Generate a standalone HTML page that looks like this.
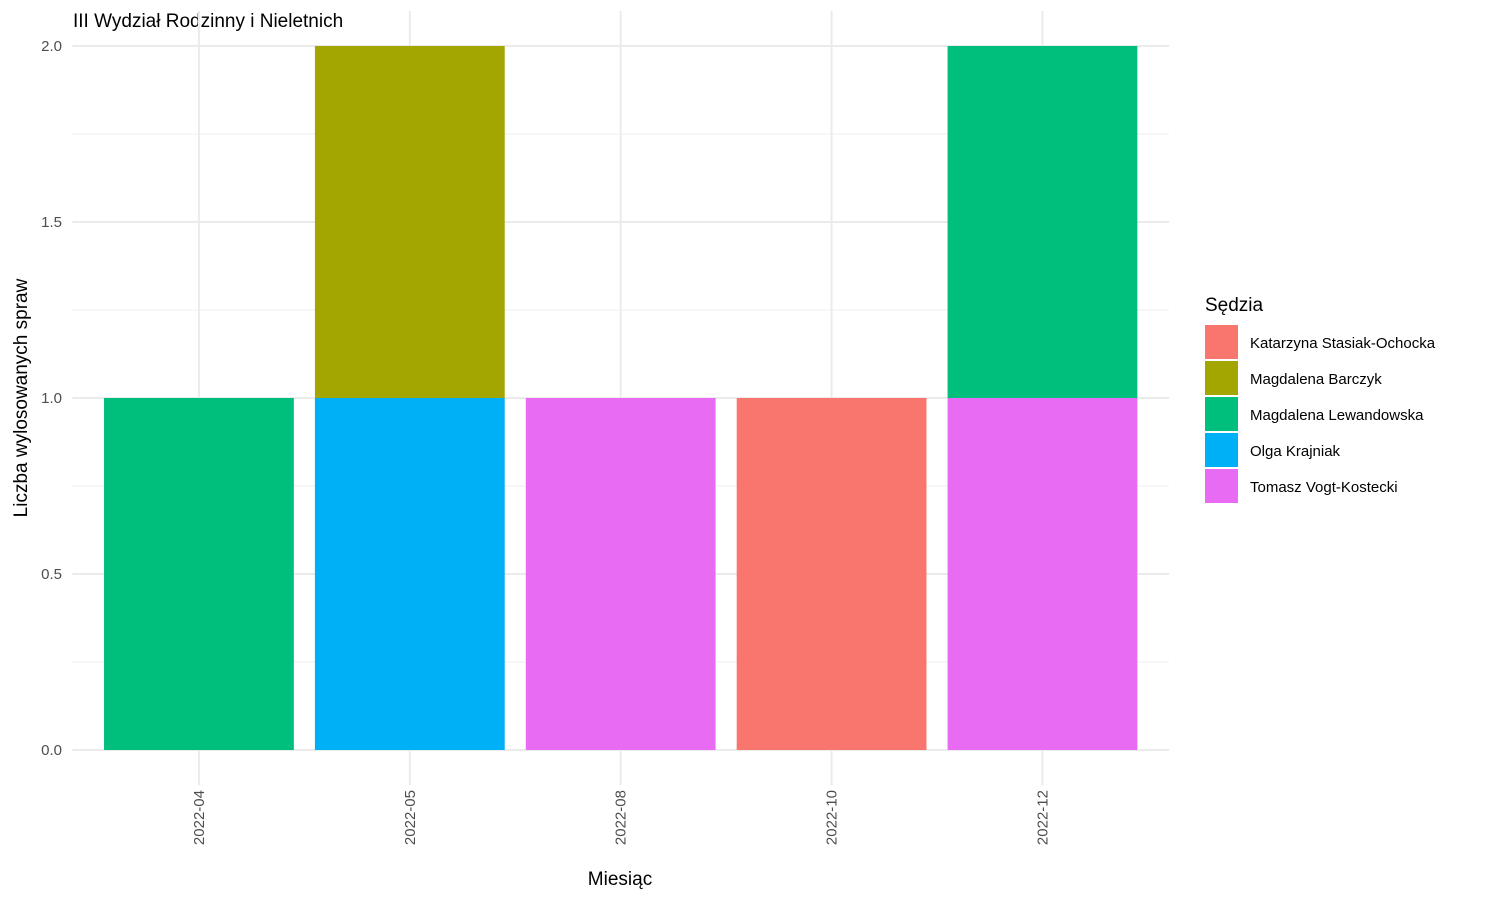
<!DOCTYPE html>
<html><head><meta charset="utf-8"><style>
body{margin:0;background:#fff;font-family:"Liberation Sans",Arial,sans-serif;}
svg text{font-family:"Liberation Sans",Arial,sans-serif;}
</style></head><body>
<svg id="chart" width="1500" height="900" viewBox="0 0 1500 900">
<text x="73" y="27" font-size="19" fill="#000">III Wydział Rodzinny i Nieletnich</text>
<g id="grid"></g><g id="bars"></g><g id="axes"></g><g id="legend"></g>
<text x="620" y="885" font-size="19" text-anchor="middle" fill="#000">Miesiąc</text>
<text transform="translate(27,398) rotate(-90)" font-size="19" text-anchor="middle" fill="#000">Liczba wylosowanych spraw</text>
</svg>
<script>
const categories=["2022-04","2022-05","2022-08","2022-10","2022-12"];
const seriesNames=["Katarzyna Stasiak-Ochocka","Magdalena Barczyk","Magdalena Lewandowska","Olga Krajniak","Tomasz Vogt-Kostecki"];
const colors=["#F8766D","#A3A500","#00BF7D","#00B0F6","#E76BF3"];
const katarzyna=[0,0,0,1,0];
const barczyk=[0,1,0,0,0];
const lewandowska=[1,0,0,0,1];
const olga=[0,1,0,0,0];
const tomasz=[0,0,1,0,1];
const yTicks=[0,0.5,1,1.5,2];
const yTickLabels=["0.0","0.5","1.0","1.5","2.0"];
const series=[katarzyna,barczyk,lewandowska,olga,tomasz];
const NS="http://www.w3.org/2000/svg";
const L=72.4,R=1169,T=11,B=785;
const step=(R-L)/(categories.length+0.2);
const xc=i=>L+(i+0.6)*step;
const y=v=>750-v*352;
function mk(tag,attrs,parent){const e=document.createElementNS(NS,tag);for(const k in attrs)e.setAttribute(k,attrs[k]);parent.appendChild(e);return e;}
const grid=document.getElementById('grid'),bars=document.getElementById('bars'),axes=document.getElementById('axes'),leg=document.getElementById('legend');
for(let v=0.25;v<2.1;v+=0.5){const l=mk('line',{x1:L,x2:R,y1:y(v),y2:y(v),stroke:"#f2f2f2","stroke-width":1.2},grid);

}
yTicks.forEach((v,i)=>{const l=mk('line',{x1:L,x2:R,y1:y(v),y2:y(v),stroke:"#ebebeb","stroke-width":2},grid);


const t=mk('text',{x:62,y:y(v)+5,"font-size":15,"text-anchor":"end",fill:"#4d4d4d"},axes);t.textContent=yTickLabels[i];

});
categories.forEach((c,i)=>{const l=mk('line',{x1:xc(i),x2:xc(i),y1:T,y2:B,stroke:"#ebebeb","stroke-width":2},grid);


const t=mk('text',{transform:`translate(${xc(i)+5},790) rotate(-90)`,"font-size":15,"text-anchor":"end",fill:"#4d4d4d"},axes);t.textContent=c;


let base=0;
for(let s=series.length-1;s>=0;s--){const v=series[s][i];if(!v)continue;
const r=mk('rect',{x:xc(i)-0.45*step,width:0.9*step,y:y(base+v),height:y(base)-y(base+v),fill:colors[s]},bars);


base+=v;}});
const lt=mk('text',{x:1205,y:311,"font-size":19,fill:"#000"},leg);lt.textContent="Sędzia";


seriesNames.forEach((n,i)=>{const g=mk('g',{},leg);


mk('rect',{x:1205,y:325+i*36,width:33,height:34,fill:colors[i]},g);
const t=mk('text',{x:1250,y:348+i*36,"font-size":15,fill:"#000"},g);t.textContent=n;});
</script>
</body></html>
